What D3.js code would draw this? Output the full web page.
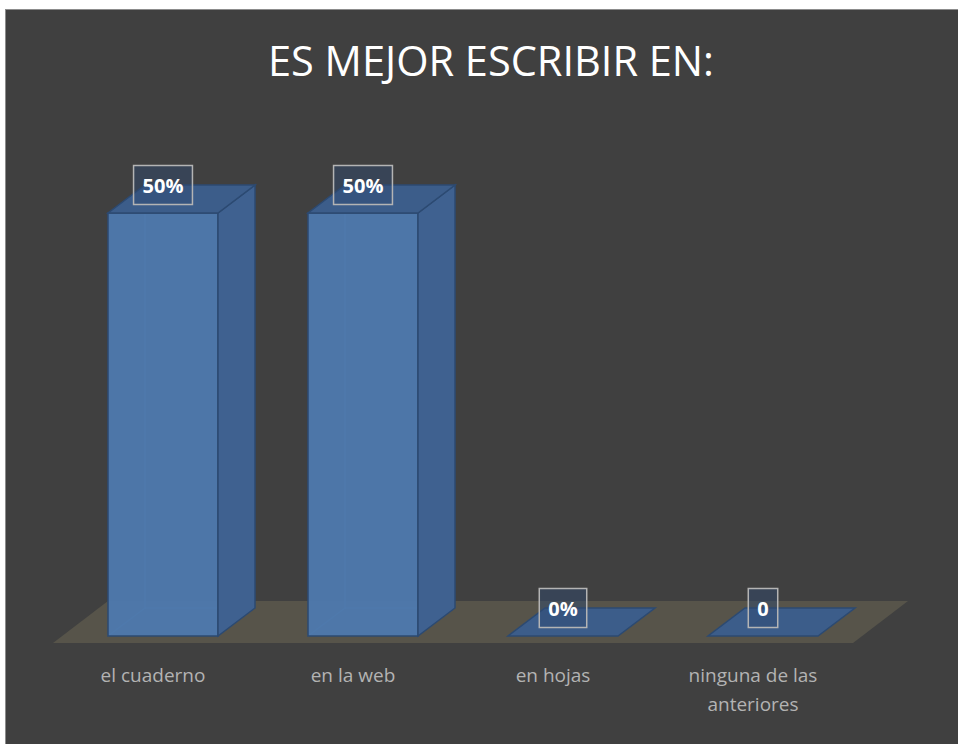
<!DOCTYPE html>
<html>
<head>
<meta charset="utf-8">
<script src="https://cdn.jsdelivr.net/npm/d3@7"></script>
<style>
  html, body { margin: 0; padding: 0; background: #fff; }
  svg { display: block; }
</style>
</head>
<body>
<div id="chart"></div>
<script>
// datos
const categories = ["el cuaderno", "en la web", "en hojas", "ninguna de las anteriores"];
const values = [0.5, 0.5, 0, 0];
const valueLabels = ["50%", "50%", "0%", "0"];
const title = "ES MEJOR ESCRIBIR EN:";

const width = 958;
const height = 744;
const font = "'Open Sans', sans-serif";

// depth of the 3d boxes and of the floor
const depth = { dx: 37, dy: 28 };
const floorDepth = { dx: 55, dy: 42 };

const svg = d3.select("#chart")
  .append("svg")
  .attr("width", width)
  .attr("height", height);

// background panel
svg.append("rect")
  .attr("x", 5.5)
  .attr("y", 9.5)
  .attr("width", width - 5)
  .attr("height", height - 9)
  .attr("fill", "#404040")
  .attr("stroke", "#8c8c8c");

svg.append("text")
  .attr("x", 491)
  .attr("y", 76)
  .attr("text-anchor", "middle")
  .attr("fill", "#ffffff")
  .style("font-family", font)
  .style("font-size", "42px")
  .attr("textLength", 446)
  .attr("lengthAdjust", "spacingAndGlyphs")
  .text(title);

const x = d3.scaleBand()
  .domain(categories)
  .range([53, 853])
  .paddingInner(0);

const y = d3.scaleLinear()
  .domain([0, 0.5])
  .range([636, 213]);

const barInset = 55;
const barW = 110;

// floor
const floorY = 643;
svg.append("polygon")
  .attr("points", [
    [x.range()[0], floorY],
    [x.range()[1], floorY],
    [x.range()[1] + floorDepth.dx, floorY - floorDepth.dy],
    [x.range()[0] + floorDepth.dx, floorY - floorDepth.dy]
  ].map(p => p.join(",")).join(" "))
  .attr("fill", "#57544a");

const pts = arr => arr.map(p => p.join(",")).join(" ");

const bars = svg.append("g")
  .selectAll("g")
  .data(categories.map((c, i) => ({ c, v: values[i], label: valueLabels[i] })))
  .join("g");

bars.each(function (d) {
  const g = d3.select(this);
  const x0 = x(d.c) + barInset;
  const x1 = x0 + barW;
  const yb = y(0);
  const yt = y(d.v);
  const { dx, dy } = depth;

  if (d.v > 0) {
    // hidden back edges, seen through the glassy front
    g.append("polyline")
      .attr("points", pts([[x0, yb], [x0 + dx, yb - dy], [x0 + dx, yt - dy]]))
      .attr("fill", "none")
      .attr("stroke", "#5a86bd")
      .attr("stroke-width", 1.5)
      .attr("opacity", 0.6);
    g.append("line")
      .attr("x1", x0 + dx).attr("y1", yb - dy)
      .attr("x2", x1 + dx).attr("y2", yb - dy)
      .attr("stroke", "#5a86bd")
      .attr("stroke-width", 1.5)
      .attr("opacity", 0.6);

    // front
    g.append("rect")
      .attr("x", x0)
      .attr("y", yt)
      .attr("width", barW)
      .attr("height", yb - yt)
      .attr("fill", "#4e79ae")
      .attr("fill-opacity", 0.95)
      .attr("stroke", "#2c4a72")
      .attr("stroke-width", 1.5);

    // side
    g.append("polygon")
      .attr("points", pts([[x1, yt], [x1 + dx, yt - dy], [x1 + dx, yb - dy], [x1, yb]]))
      .attr("fill", "#3f6190")
      .attr("stroke", "#2c4a72")
      .attr("stroke-width", 1.5);
  }

  // top
  g.append("polygon")
    .attr("points", pts([[x0, yt], [x1, yt], [x1 + dx, yt - dy], [x0 + dx, yt - dy]]))
    .attr("fill", "#3c5d8a")
    .attr("stroke", "#2c4a72")
    .attr("stroke-width", 1.5);

  // value label
  const cx = x0 + barW / 2;
  const cy = yt - dy;
  const t = g.append("text")
    .attr("x", cx)
    .attr("y", cy + 8)
    .attr("text-anchor", "middle")
    .attr("fill", "#ffffff")
    .style("font-family", font)
    .style("font-size", "20px")
    .style("font-weight", "bold")
    .text(d.label);
  const w = t.node().getComputedTextLength();
  g.insert("rect", "text")
    .attr("x", cx - w / 2 - 9)
    .attr("y", cy - 19.5)
    .attr("width", w + 18)
    .attr("height", 39)
    .attr("fill", "#2e4a70")
    .attr("fill-opacity", 0.45)
    .attr("stroke", "#b4b4b4")
    .attr("stroke-width", 1.5);
});

// category labels
const labels = svg.append("g")
  .selectAll("text")
  .data(categories)
  .join("text")
  .attr("x", d => x(d) + x.bandwidth() / 2)
  .attr("y", 682)
  .attr("text-anchor", "middle")
  .attr("fill", "#b3b3b3")
  .style("font-family", font)
  .style("font-size", "19px");

labels.each(function (d) {
  const el = d3.select(this);
  const words = d.split(" ");
  let line = [];
  let lines = [];
  const probe = el.append("tspan");
  words.forEach(wd => {
    const test = line.concat(wd).join(" ");
    probe.text(test);
    if (probe.node().getComputedTextLength() > 160 && line.length) {
      lines.push(line.join(" "));
      line = [wd];
    } else {
      line.push(wd);
    }
  });
  lines.push(line.join(" "));
  probe.remove();
  lines.forEach((l, i) => {
    el.append("tspan")
      .attr("x", x(d) + x.bandwidth() / 2)
      .attr("dy", i === 0 ? 0 : 29)
      .text(l);
  });
});
</script>
</body>
</html>
